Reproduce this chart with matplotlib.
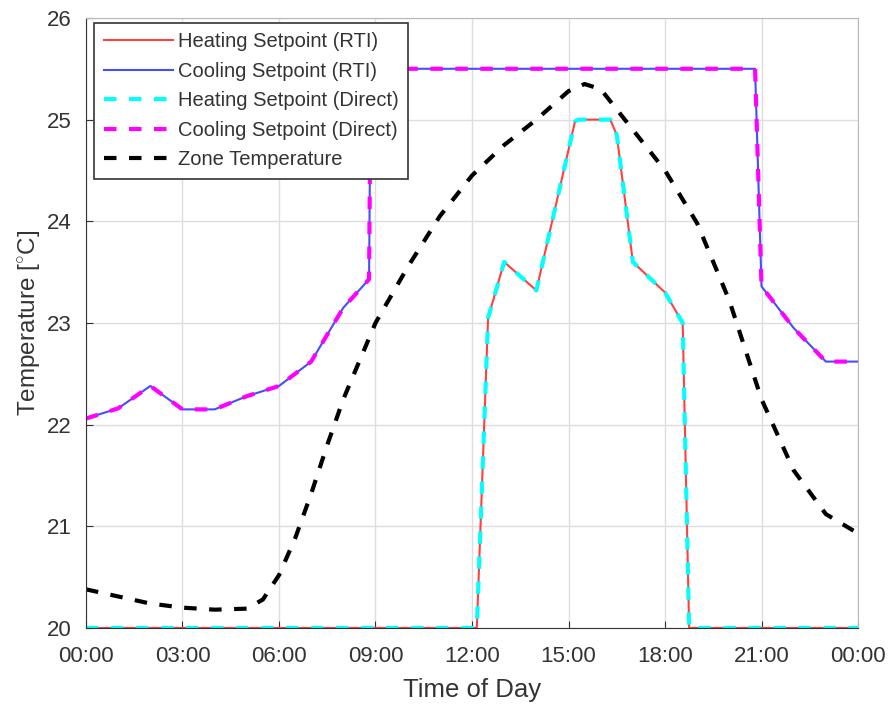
import matplotlib.pyplot as plt

plt.rcParams["font.family"] = ["Liberation Sans", "DejaVu Sans"]
plt.rcParams["mathtext.fontset"] = "custom"
plt.rcParams["mathtext.rm"] = "Liberation Sans"

# hours since midnight and setpoint / temperature values [degC]
heat_hours = [0, 12.15, 12.5, 13.0, 14.0, 15.2, 15.3, 16.3, 16.5, 17.0, 18.0, 18.55, 18.75, 24]
heat_temp = [20.0, 20.0, 23.05, 23.6, 23.32, 24.98, 25.0, 25.0, 24.85, 23.6, 23.3, 23.0, 20.0, 20.0]

cool_hours = [0, 1, 2, 3, 4, 5, 6, 7, 8, 8.8, 8.85, 20.8, 21.0, 22.0, 23.0, 24]
cool_temp = [22.06, 22.16, 22.38, 22.15, 22.15, 22.28, 22.38, 22.62, 23.15, 23.43, 25.5,
             25.5, 23.36, 22.95, 22.62, 22.62]

zone_hours = [0, 1, 2, 3, 4, 5, 5.5, 6, 6.5, 7, 7.5, 8, 9, 10, 11, 12, 13, 14, 15, 15.5,
              16, 17, 18, 19, 20, 21, 22, 23, 24]
zone_temp = [20.38, 20.31, 20.24, 20.2, 20.18, 20.19, 20.28, 20.52, 20.88, 21.32, 21.8,
             22.25, 23.0, 23.55, 24.05, 24.45, 24.75, 25.0, 25.28, 25.35, 25.3, 24.9,
             24.5, 23.98, 23.22, 22.25, 21.55, 21.12, 20.93]

tick_hours = [0, 3, 6, 9, 12, 15, 18, 21, 24]
tick_labels = ["00:00", "03:00", "06:00", "09:00", "12:00", "15:00", "18:00", "21:00", "00:00"]

fig = plt.figure(figsize=(8.92, 7.04), dpi=100)
ax = fig.add_axes([0.0964, 0.108, 0.8655, 0.8665])

ax.plot(heat_hours, heat_temp, color="#ff4040", lw=1.5, label="Heating Setpoint (RTI)")
ax.plot(cool_hours, cool_temp, color="#4a4aff", lw=1.5, label="Cooling Setpoint (RTI)")
ax.plot(heat_hours, heat_temp, color="#00ffff", lw=3, ls=(0, (3, 3)), label="Heating Setpoint (Direct)")
ax.plot(cool_hours, cool_temp, color="#ff00ff", lw=3, ls=(0, (3, 3)), label="Cooling Setpoint (Direct)")
ax.plot(zone_hours, zone_temp, color="black", lw=3, ls=(0, (3, 3)), label="Zone Temperature")

ax.set_xlim(0, 24)
ax.set_ylim(20, 26)
ax.set_xticks(tick_hours)
ax.set_xticklabels(tick_labels)
ax.set_yticks(range(20, 27))
ax.tick_params(direction="in", length=5, labelsize=16, colors="#333333", top=False, right=False)
ax.tick_params(axis="x", pad=13)
ax.tick_params(axis="y", pad=10)
ax.grid(True, color="#dedede", lw=1)
ax.set_axisbelow(True)
for side in ["left", "bottom"]:
    ax.spines[side].set_color("#333333")
for side in ["top", "right"]:
    ax.spines[side].set_color("#b8b8b8")

ax.set_xlabel("Time of Day", fontsize=18.5, color="#333333", labelpad=8)
ax.set_ylabel("Temperature [$^{\\circ}$C]", fontsize=17.5, color="#333333", labelpad=3)

leg = ax.legend(loc="upper left", bbox_to_anchor=(0.011, 0.992), borderaxespad=0,
                fontsize=14.5, handlelength=3.4, handletextpad=0.25, labelspacing=0.52,
                borderpad=0.48, fancybox=False, framealpha=1, edgecolor="#333333")
leg.get_frame().set_linewidth(1.2)
for text in leg.get_texts():
    text.set_color("#333333")

fig.savefig("out.png", dpi=100)
